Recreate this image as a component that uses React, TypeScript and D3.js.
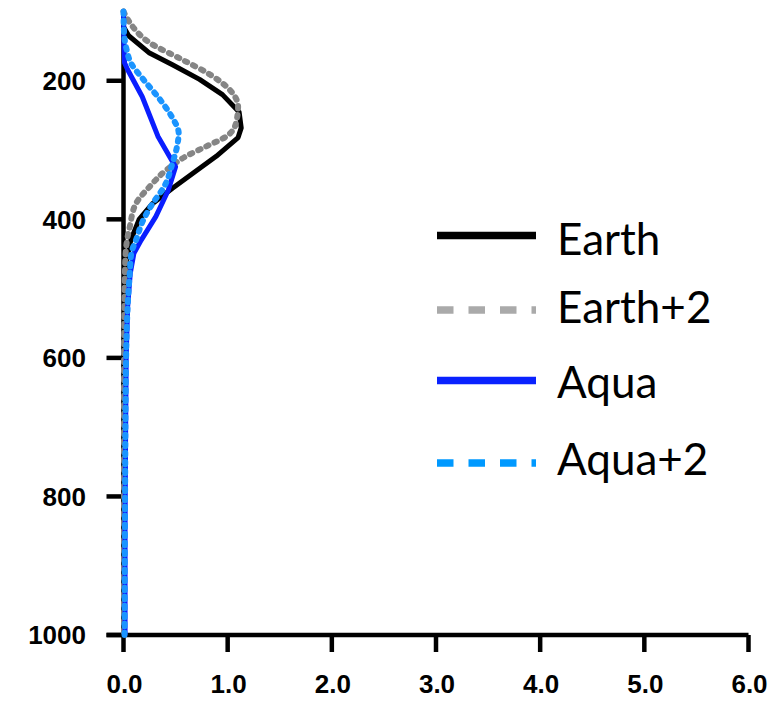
import React from "react";
import * as d3 from "d3";

const xTicks = [0, 1, 2, 3, 4, 5, 6];
const yTicks = [200, 400, 600, 800, 1000];

const earthP = [100, 122, 135, 160, 177, 198, 220, 245, 268, 282, 309, 333, 355, 377, 400, 430, 460, 500, 600, 800, 1000];
const earthX = [0, 0, 0.05, 0.25, 0.47, 0.73, 0.95, 1.11, 1.13, 1.1, 0.89, 0.67, 0.47, 0.28, 0.15, 0.07, 0.03, 0.012, 0.005, 0.005, 0.005];

const earth2P = [100, 116, 145, 170, 191, 213, 237, 261, 280, 295, 309, 329, 353, 377, 411, 434, 470, 520, 600, 800, 1000];
const earth2X = [0, 0.06, 0.25, 0.57, 0.83, 1.02, 1.1, 1.08, 0.99, 0.79, 0.6, 0.41, 0.25, 0.12, 0.06, 0.03, 0.015, 0.01, 0.005, 0.005, 0.005];

const aquaP = [100, 150, 174, 184, 223, 280, 314, 324, 358, 396, 430, 449, 478, 526, 599, 719, 850, 1000];
const aquaX = [0, 0.005, 0.01, 0.04, 0.18, 0.33, 0.46, 0.5, 0.43, 0.31, 0.17, 0.1, 0.065, 0.04, 0.026, 0.02, 0.015, 0.015];

const aqua2P = [100, 130, 155, 174, 198, 227, 251, 276, 290, 319, 353, 377, 401, 430, 449, 478, 526, 600, 800, 1000];
const aqua2X = [0, 0.005, 0.03, 0.07, 0.19, 0.35, 0.46, 0.53, 0.52, 0.47, 0.39, 0.28, 0.19, 0.12, 0.075, 0.06, 0.04, 0.025, 0.015, 0.01];

const seriesNames = ["Earth", "Earth+2", "Aqua", "Aqua+2"];

type Series = {
  name: string;
  p: number[];
  x: number[];
  color: string;
  legendColor: string;
  dashed: boolean;
};

const series: Series[] = [
  { name: seriesNames[0], p: earthP, x: earthX, color: "#000000", legendColor: "#000000", dashed: false },
  { name: seriesNames[1], p: earth2P, x: earth2X, color: "#858585", legendColor: "#aaaaaa", dashed: true },
  { name: seriesNames[2], p: aquaP, x: aquaX, color: "#0a1eff", legendColor: "#0a22ff", dashed: false },
  { name: seriesNames[3], p: aqua2P, x: aqua2X, color: "#1a94ff", legendColor: "#0099ff", dashed: true },
];

export default function App() {
  const W = 783;
  const H = 701;
  const x = d3.scaleLinear().domain([0, 6]).range([123.5, 748.5]);
  const y = d3.scaleLinear().domain([100, 1000]).range([11.5, 635]);

  const makeLine = (smooth: boolean) =>
    d3
      .line<[number, number]>()
      .x((d) => x(d[0]))
      .y((d) => y(d[1]))
      .curve(smooth ? d3.curveMonotoneY : d3.curveLinear);

  const axisW = 4.5;
  const tickLen = 17;
  const labelFont = "'Liberation Sans', Arial, sans-serif";
  const legendFont = "Lato, 'Open Sans', sans-serif";

  const legendY = [235.5, 310, 380.5, 463];
  const legendBase = [255, 323, 398, 475];

  return (
    <svg
      width={W}
      height={H}
      style={{ position: "absolute", left: 0, top: 0, background: "#fff" }}
    >
      {/* axes */}
      <line x1={x(0)} x2={x(0)} y1={10} y2={y(1000)} stroke="#000" strokeWidth={axisW} />
      <line x1={x(0) - tickLen} x2={x(6)} y1={y(1000)} y2={y(1000)} stroke="#000" strokeWidth={axisW} />
      {yTicks.map((t) => (
        <g key={"y" + t}>
          <line x1={x(0) - tickLen} x2={x(0)} y1={y(t)} y2={y(t)} stroke="#000" strokeWidth={axisW} />
          <text
            x={86}
            y={y(t)}
            dy="0.36em"
            textAnchor="end"
            fontFamily={labelFont}
            fontWeight="bold"
            fontSize={26}
            fill="#000"
          >
            {t}
          </text>
        </g>
      ))}
      {xTicks.map((t) => (
        <g key={"x" + t}>
          <line x1={x(t)} x2={x(t)} y1={y(1000)} y2={y(1000) + tickLen} stroke="#000" strokeWidth={axisW} />
          <text
            x={x(t) + 1}
            y={693}
            textAnchor="middle"
            fontFamily={labelFont}
            fontWeight="bold"
            fontSize={26}
            fill="#000"
          >
            {t.toFixed(1)}
          </text>
        </g>
      ))}

      {/* curves */}
      {series.map((s) => {
        const pts: [number, number][] = s.p.map((p, i) => [s.x[i], p]);
        return (
          <path
            key={s.name}
            d={makeLine(s.dashed)(pts) || ""}
            fill="none"
            stroke={s.color}
            strokeWidth={s.dashed ? 6 : 5}
            strokeDasharray={s.dashed ? "2.5 6.5" : undefined}
            strokeLinecap={s.dashed ? "round" : "butt"}
            strokeLinejoin="round"
          />
        );
      })}

      {/* legend */}
      {series.map((s, i) => (
        <g key={"leg" + s.name}>
          <line
            x1={437}
            x2={536}
            y1={legendY[i]}
            y2={legendY[i]}
            stroke={s.legendColor}
            strokeWidth={7.5}
            strokeDasharray={s.dashed ? "16.5 15" : undefined}
          />
          <text
            x={557}
            y={legendBase[i]}
            fontFamily={legendFont}
            fontSize={44}
            fill="#000"
          >
            {s.name}
          </text>
        </g>
      ))}
    </svg>
  );
}
